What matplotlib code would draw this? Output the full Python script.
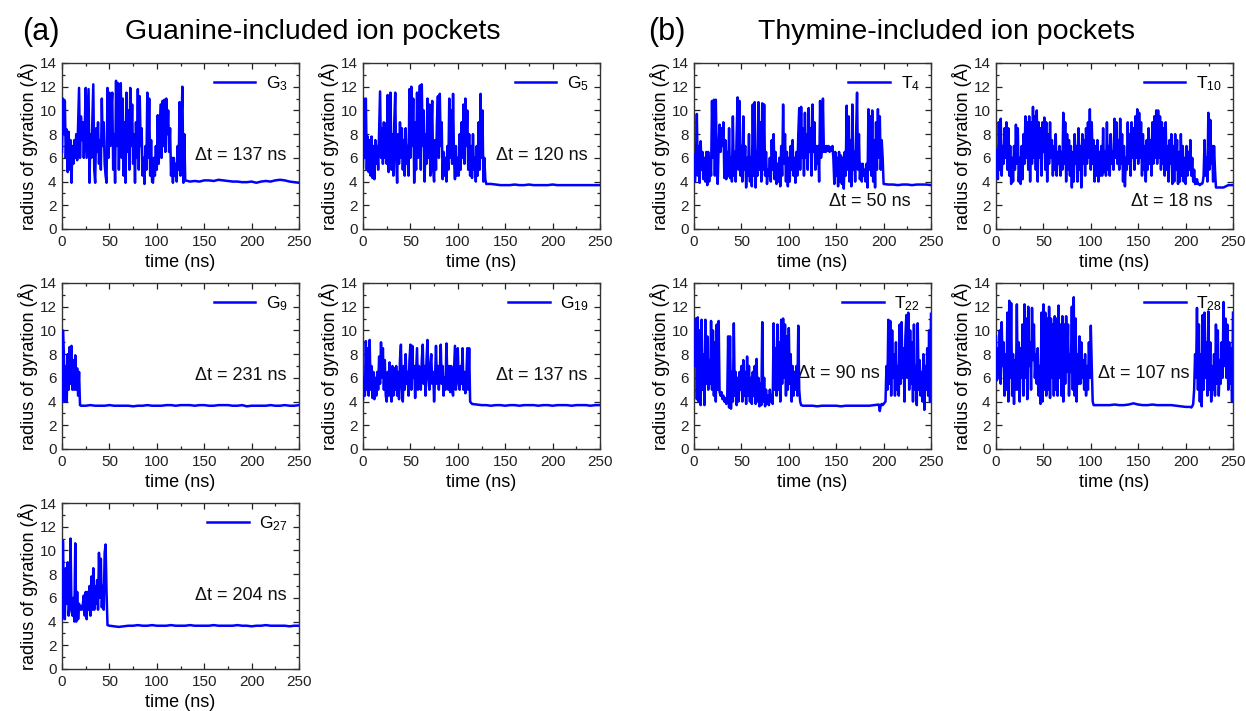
import numpy as np
import matplotlib
matplotlib.use('Agg')
import matplotlib.pyplot as plt
from matplotlib.ticker import MultipleLocator

plt.rcParams['font.family'] = ['Liberation Sans', 'DejaVu Sans']
plt.rcParams['mathtext.fontset'] = 'custom'
plt.rcParams['mathtext.rm'] = 'Liberation Sans'
plt.rcParams['mathtext.it'] = 'Liberation Sans:italic'

# ---------------- data (radius of gyration, Angstrom) ----------------
# noisy parts sampled every 1 ns, flat parts every 5 ns
G3_NOISY = [6.5, 11.0, 8.0, 10.8, 6.0, 8.4, 4.8, 8.2, 5.0, 7.5,
            3.9, 7.0, 5.5, 7.5, 6.0, 8.0, 5.8, 9.0, 11.9, 6.0,
            9.5, 7.5, 9.0, 6.0, 8.5, 11.9, 6.0, 9.0, 11.8, 3.9,
            8.0, 6.0, 9.0, 12.2, 5.0, 3.9, 8.5, 6.5, 9.0, 5.5,
            7.5, 5.0, 11.0, 7.0, 9.0, 5.5, 4.5, 3.9, 11.9, 6.0,
            11.5, 7.0, 10.0, 11.5, 5.0, 8.0, 3.9, 12.5, 7.0, 12.3,
            5.0, 10.5, 12.3, 6.0, 11.0, 4.5, 9.0, 3.9, 11.5, 6.5,
            10.0, 5.0, 11.9, 7.0, 10.5, 5.5, 8.0, 3.9, 9.0, 6.0,
            11.8, 5.0, 11.2, 7.0, 8.5, 4.5, 6.0, 3.8, 7.0, 5.0,
            11.5, 6.0, 11.0, 4.5, 7.5, 4.0, 3.9, 6.0, 4.5, 7.0,
            5.0, 9.6, 5.5, 8.0, 10.5, 6.0, 10.8, 7.0, 10.9, 6.5,
            11.0, 8.0, 10.0, 6.5, 8.5, 4.5, 6.0, 3.9, 6.0, 4.5,
            5.5, 4.0, 7.0, 5.0, 10.7, 4.5, 9.0, 12.0, 3.9, 8.0,
            4.1]
G3_FLAT = [4.0, 4.05, 4.0, 4.1, 4.1, 4.05, 4.15, 4.1, 4.05, 4.0,
           4.0, 3.95, 3.95, 4.0, 3.9, 4.0, 4.05, 4.0, 4.1, 4.15,
           4.1, 4.0, 3.95, 3.9]

G5_NOISY = [5.2, 11.0, 6.0, 11.0, 5.0, 7.8, 4.8, 7.5, 4.5, 7.8,
            4.3, 7.0, 4.2, 7.5, 5.5, 7.0, 5.0, 8.5, 11.6, 6.0,
            8.5, 5.5, 9.0, 6.0, 8.9, 5.5, 11.3, 4.8, 9.0, 11.5,
            5.0, 8.0, 4.5, 9.0, 11.5, 6.0, 3.9, 8.0, 5.5, 9.0,
            6.0, 8.5, 5.0, 7.5, 4.5, 8.5, 5.5, 7.0, 4.5, 11.8,
            6.0, 12.0, 7.0, 11.0, 3.9, 9.0, 5.0, 11.5, 6.0, 10.0,
            12.1, 5.0, 12.2, 7.0, 10.0, 4.0, 8.0, 5.5, 11.0, 6.0,
            10.5, 4.5, 8.0, 10.8, 5.0, 4.0, 7.5, 5.0, 9.0, 11.2,
            6.0, 11.4, 7.0, 9.0, 4.2, 6.5, 4.5, 6.0, 4.0, 7.0,
            5.0, 11.0, 6.0, 10.0, 5.5, 11.4, 6.0, 4.2, 7.0, 4.5,
            6.0, 4.5, 8.0, 5.0, 9.0, 6.0, 10.5, 5.5, 11.0, 7.0,
            10.0, 5.0, 8.0, 4.5, 7.0, 4.3, 8.0, 5.0, 6.0, 4.0,
            7.0, 4.5, 9.0, 5.0, 11.4, 6.0, 10.0, 4.0, 6.0, 4.2,
            3.8]
G5_FLAT = [3.8, 3.75, 3.7, 3.7, 3.7, 3.75, 3.7, 3.7, 3.75, 3.7,
           3.7, 3.7, 3.7, 3.75, 3.7, 3.7, 3.7, 3.7, 3.7, 3.7,
           3.7, 3.7, 3.7, 3.7]

G9_NOISY = [4.0, 10.0, 8.0, 4.0, 7.0, 4.0, 8.0, 5.0, 8.6, 5.5,
            8.7, 5.0, 7.5, 5.0, 7.9, 5.0, 6.8, 4.5, 6.5, 3.7]
G9_FLAT = [3.65, 3.65, 3.7, 3.65, 3.65, 3.65, 3.7, 3.65, 3.65, 3.65,
           3.65, 3.6, 3.65, 3.65, 3.7, 3.65, 3.65, 3.65, 3.7, 3.7,
           3.65, 3.7, 3.7, 3.7, 3.65, 3.7, 3.7, 3.65, 3.65, 3.7,
           3.7, 3.7, 3.65, 3.65, 3.7, 3.6, 3.65, 3.65, 3.65, 3.65,
           3.7, 3.65, 3.65, 3.7, 3.65, 3.65, 3.7]

G19_NOISY = [4.2, 6.0, 4.5, 9.1, 5.0, 8.5, 4.5, 9.2, 5.0, 7.0,
             4.3, 6.5, 4.2, 6.0, 4.5, 6.5, 5.0, 7.8, 5.5, 9.0,
             6.0, 8.5, 5.0, 7.5, 4.5, 4.0, 6.5, 4.5, 7.3, 5.0,
             4.0, 7.0, 4.5, 6.8, 5.0, 7.0, 4.5, 6.5, 4.2, 7.5,
             8.8, 5.0, 4.0, 7.0, 5.0, 8.0, 5.5, 6.5, 4.5, 7.5,
             8.8, 5.0, 8.7, 6.0, 7.0, 4.3, 6.5, 8.5, 5.0, 7.0,
             6.5, 5.0, 7.5, 8.8, 5.5, 7.0, 4.5, 7.5, 9.2, 6.0,
             5.0, 7.0, 8.0, 5.5, 6.5, 4.0, 6.0, 8.7, 5.5, 7.0,
             5.0, 6.5, 8.8, 5.5, 7.0, 4.5, 6.0, 5.0, 8.9, 6.0,
             5.0, 7.0, 4.8, 7.0, 5.0, 4.5, 6.5, 8.7, 5.0, 7.0,
             8.5, 5.5, 5.0, 7.0, 5.5, 8.5, 5.0, 6.5, 4.7, 6.0,
             8.5, 5.0, 8.5, 4.0, 3.9]
G19_FLAT = [3.8, 3.75, 3.7, 3.7, 3.65, 3.7, 3.7, 3.65, 3.7, 3.7,
            3.65, 3.7, 3.7, 3.7, 3.65, 3.7, 3.7, 3.65, 3.7, 3.7,
            3.7, 3.65, 3.7, 3.7, 3.7, 3.65, 3.7, 3.7]

G27_NOISY = [4.2, 10.8, 6.0, 4.2, 8.5, 5.5, 9.0, 4.5, 5.5, 11.0,
             5.0, 4.5, 6.0, 4.0, 10.6, 4.0, 6.5, 4.2, 5.5, 5.0,
             5.3, 5.0, 5.5, 6.2, 4.5, 6.5, 4.2, 6.5, 5.0, 7.0,
             4.5, 7.8, 5.0, 8.5, 5.0, 7.0, 5.5, 7.5, 5.0, 9.8,
             6.0, 9.3, 5.2, 7.0, 5.0, 9.8, 10.5, 6.4, 3.7]
G27_FLAT = [3.65, 3.6, 3.55, 3.6, 3.65, 3.65, 3.7, 3.65, 3.65, 3.7,
            3.65, 3.65, 3.65, 3.7, 3.65, 3.65, 3.65, 3.7, 3.65, 3.65,
            3.65, 3.65, 3.7, 3.65, 3.65, 3.65, 3.65, 3.7, 3.65, 3.65,
            3.6, 3.65, 3.65, 3.7, 3.65, 3.65, 3.65, 3.65, 3.6, 3.65,
            3.65]

T4_NOISY = [6.2, 4.0, 5.5, 9.7, 4.5, 7.0, 3.9, 7.4, 5.0, 6.5,
            4.2, 6.0, 4.0, 6.5, 3.7, 6.5, 4.0, 6.0, 4.5, 10.8,
            6.0, 10.9, 4.5, 10.9, 6.0, 3.8, 7.0, 8.8, 6.5, 8.5,
            7.0, 9.0, 4.3, 7.5, 4.2, 6.5, 4.5, 8.5, 4.3, 6.0,
            4.0, 9.5, 4.5, 6.5, 4.0, 8.0, 11.1, 5.0, 10.8, 4.5,
            7.0, 4.0, 9.5, 5.0, 7.0, 3.5, 6.0, 4.5, 8.0, 4.0,
            6.0, 3.6, 10.5, 4.5, 10.7, 3.5, 6.5, 4.5, 10.7, 5.0,
            9.0, 4.0, 10.6, 5.0, 10.5, 4.5, 6.5, 3.8, 5.0, 4.5,
            6.0, 4.0, 7.5, 5.0, 8.0, 4.2, 6.5, 3.8, 5.5, 4.0,
            6.0, 3.6, 7.0, 4.5, 10.5, 5.5, 8.0, 4.0, 6.5, 3.6,
            6.0, 4.0, 7.0, 5.0, 7.5, 4.5, 6.0, 3.9, 6.5, 4.5,
            8.0, 10.2, 5.0, 10.3, 6.0, 8.5, 4.5, 9.8, 6.0, 8.0,
            5.0, 10.2, 6.5, 8.5, 4.5, 10.5, 6.5, 9.0, 5.0, 7.0,
            5.5, 7.0, 4.0, 10.8, 6.0, 7.0, 11.0, 6.5, 7.0, 6.5,
            7.0, 6.6, 7.0, 6.5, 6.9, 6.6, 7.0, 6.0, 3.8, 6.5,
            4.5, 6.0, 3.6, 6.5, 4.0, 6.2, 3.8, 6.0, 3.4, 6.5,
            4.5, 10.4, 5.0, 9.5, 4.0, 7.5, 3.6, 10.5, 5.0, 6.5,
            4.0, 8.0, 11.5, 5.0, 8.0, 4.2, 5.5, 4.0, 5.5, 4.5,
            5.0, 4.0, 5.5, 3.5, 10.1, 5.0, 9.5, 4.5, 10.0, 4.0,
            7.5, 3.5, 9.0, 5.0, 10.1, 6.0, 9.5, 5.0, 7.5, 6.0,
            3.8]
T4_FLAT = [3.75, 3.75, 3.7, 3.75, 3.75, 3.7, 3.75, 3.75, 3.75, 3.7]

T10_NOISY = [4.5, 6.7, 4.2, 9.0, 5.0, 9.3, 4.5, 7.0, 5.5, 8.5,
             6.0, 9.0, 5.0, 8.5, 4.5, 7.0, 3.8, 6.0, 4.0, 7.0,
             5.0, 8.8, 5.5, 8.5, 4.0, 6.0, 3.8, 7.0, 4.2, 8.0,
             5.5, 9.5, 6.0, 9.0, 5.0, 9.5, 4.0, 9.0, 5.5, 10.3,
             6.0, 9.5, 5.0, 10.0, 4.0, 9.0, 6.0, 8.5, 4.5, 9.0,
             6.5, 9.4, 5.0, 9.0, 4.0, 8.0, 5.5, 9.0, 6.0, 7.5,
             4.5, 7.0, 5.0, 8.0, 4.5, 6.5, 5.5, 7.0, 4.5, 6.5,
             5.0, 9.8, 5.5, 9.0, 4.0, 8.0, 5.0, 7.5, 4.5, 7.0,
             3.5, 6.5, 4.0, 8.0, 5.5, 7.0, 4.0, 8.5, 5.0, 7.0,
             3.5, 8.0, 5.5, 7.5, 4.5, 8.5, 5.5, 9.0, 6.0, 10.1,
             5.0, 9.0, 5.5, 7.5, 4.0, 7.0, 4.5, 7.5, 4.0, 6.5,
             4.5, 7.0, 4.5, 8.5, 4.8, 6.5, 4.5, 9.0, 5.0, 7.0,
             4.5, 8.0, 5.5, 6.5, 5.0, 9.3, 6.0, 9.0, 5.5, 7.5,
             5.0, 9.3, 5.5, 8.0, 4.0, 7.0, 3.6, 6.0, 5.0, 9.0,
             5.5, 8.0, 4.5, 9.0, 6.0, 8.5, 5.0, 9.5, 6.0, 10.1,
             5.5, 9.8, 6.0, 9.0, 4.5, 8.0, 5.0, 7.0, 4.0, 7.5,
             5.0, 8.5, 5.5, 7.5, 4.5, 9.0, 5.5, 9.5, 6.0, 10.0,
             5.5, 10.0, 6.0, 9.5, 5.0, 9.0, 5.5, 8.5, 4.5, 9.0,
             5.0, 7.0, 4.0, 7.5, 5.5, 8.0, 3.8, 7.0, 4.0, 8.0,
             5.0, 7.5, 3.8, 6.5, 4.0, 8.0, 4.5, 7.0, 4.0, 6.0,
             3.8, 7.0, 4.5, 6.5, 5.0, 7.5, 4.5, 6.0, 4.0, 5.0,
             3.8, 3.8, 4.2, 3.8, 3.8, 3.7, 3.8, 3.8, 3.9, 4.5,
             7.5, 4.5, 6.0, 4.0, 9.8, 5.0, 9.2, 5.5, 7.0, 4.0,
             7.0, 5.0, 3.5]
T10_FLAT = [3.5, 3.5, 3.7, 3.7]

T22_NOISY_A = [9.0, 7.0, 11.0, 4.2, 11.1, 4.0, 10.0, 3.7, 10.9, 5.0,
               8.0, 3.7, 10.9, 5.5, 9.5, 5.0, 7.5, 5.5, 10.8, 5.0,
               10.0, 4.5, 9.0, 4.0, 10.5, 5.0, 10.8, 4.8, 4.5, 4.8,
               4.2, 4.5, 4.0, 4.3, 3.8, 4.0, 9.5, 3.5, 9.5, 3.4,
               6.5, 4.0, 10.6, 4.5, 6.5, 3.7, 6.0, 4.0, 6.5, 5.0,
               7.0, 4.0, 7.5, 4.5, 6.5, 3.8, 7.8, 4.5, 7.0, 4.0,
               6.0, 3.8, 6.5, 4.5, 7.0, 3.8, 7.6, 4.0, 6.0, 3.6,
               5.5, 3.7, 10.7, 4.0, 6.0, 3.6, 5.0, 3.8, 4.5, 3.7,
               5.0, 4.0, 4.5, 3.8, 10.6, 5.0, 8.5, 4.5, 10.5, 5.0,
               9.0, 4.0, 10.9, 5.5, 11.0, 6.0, 10.5, 4.5, 9.5, 5.0,
               10.2, 5.5, 8.0, 4.0, 7.0, 4.5, 6.5, 5.0, 7.0, 4.5,
               10.4, 5.0, 4.0, 3.7]
T22_FLAT = [3.65, 3.65, 3.65, 3.6, 3.65, 3.65, 3.65, 3.65, 3.6, 3.65,
            3.65, 3.65, 3.65, 3.65, 3.65, 3.7, 3.75]
T22_NOISY_B = [3.2, 3.7, 3.8, 3.7, 3.8, 3.9, 4.0, 7.0, 5.0, 10.9,
               5.5, 10.8, 4.5, 10.0, 6.0, 8.0, 4.5, 9.0, 5.0, 7.0,
               4.5, 10.5, 5.5, 10.7, 6.0, 8.5, 4.0, 9.5, 11.3, 6.0,
               11.5, 5.0, 10.0, 5.5, 9.0, 4.0, 10.5, 5.0, 7.0, 3.7,
               10.6, 5.0, 7.5, 4.5, 6.5, 4.0, 8.0, 3.3, 7.0, 5.0,
               8.5, 4.5, 10.0, 4.0, 11.4]

T28_NOISY_A = [9.5, 5.8, 8.5, 6.0, 10.0, 5.5, 10.7, 7.0, 9.0, 4.5,
               8.0, 5.0, 11.5, 4.0, 12.5, 6.0, 12.3, 4.5, 8.0, 3.8,
               7.5, 5.0, 12.2, 5.0, 9.0, 4.0, 8.5, 6.0, 10.5, 4.5,
               12.2, 6.0, 11.0, 4.2, 12.0, 7.0, 9.0, 5.0, 11.9, 7.5,
               10.5, 6.0, 8.0, 5.5, 8.5, 4.5, 7.0, 3.8, 11.5, 4.0,
               12.2, 5.0, 11.5, 4.5, 11.0, 5.0, 12.0, 4.3, 11.0, 6.0,
               10.5, 4.5, 11.2, 5.0, 11.0, 4.5, 12.1, 6.0, 10.5, 4.5,
               11.2, 4.0, 10.5, 5.5, 11.2, 6.5, 10.5, 4.5, 8.0, 6.5,
               12.0, 5.0, 12.8, 4.5, 11.0, 4.0, 8.0, 5.5, 9.5, 5.5,
               9.0, 6.0, 7.5, 5.0, 8.0, 4.5, 7.0, 5.0, 9.0, 6.0,
               10.4, 7.0, 4.0, 3.7]
T28_FLAT = [3.7, 3.7, 3.7, 3.7, 3.75, 3.7, 3.7, 3.75, 3.85, 3.75,
            3.7, 3.7, 3.75, 3.7, 3.7, 3.7, 3.7, 3.65, 3.6, 3.55,
            3.55]
T28_NOISY_B = [3.5, 3.6, 3.8, 5.0, 8.0, 6.0, 11.9, 5.0, 10.5, 4.0,
               8.0, 3.6, 11.3, 5.0, 11.5, 6.0, 9.0, 4.5, 11.6, 5.0,
               9.0, 4.0, 7.0, 5.0, 8.0, 4.5, 10.5, 5.5, 10.0, 4.5,
               7.5, 5.5, 9.0, 6.0, 12.4, 7.0, 11.0, 6.0, 10.5, 5.0,
               9.0, 5.5, 8.5, 4.0, 11.5]

LABELS = ['G$_{3}$', 'G$_{5}$', 'G$_{9}$', 'G$_{19}$', 'G$_{27}$',
          'T$_{4}$', 'T$_{10}$', 'T$_{22}$', 'T$_{28}$']
DT_TEXT = ['\u0394t = 137 ns', '\u0394t = 120 ns', '\u0394t = 231 ns',
           '\u0394t = 137 ns', '\u0394t = 204 ns', '\u0394t = 50 ns',
           '\u0394t = 18 ns', '\u0394t = 90 ns', '\u0394t = 107 ns']

# segments: (start time in ns, sampling step in ns, values)
SERIES = [
    [(0, 1, G3_NOISY), (135, 5, G3_FLAT)],
    [(0, 1, G5_NOISY), (135, 5, G5_FLAT)],
    [(0, 1, G9_NOISY), (20, 5, G9_FLAT)],
    [(0, 1, G19_NOISY), (115, 5, G19_FLAT)],
    [(0, 1, G27_NOISY), (50, 5, G27_FLAT)],
    [(0, 1, T4_NOISY), (205, 5, T4_FLAT)],
    [(0, 1, T10_NOISY), (235, 5, T10_FLAT)],
    [(0, 1, T22_NOISY_A), (115, 5, T22_FLAT), (196, 1, T22_NOISY_B)],
    [(0, 1, T28_NOISY_A), (105, 5, T28_FLAT), (206, 1, T28_NOISY_B)],
]

# ---------------- layout ----------------
W, H = 1246, 711
fig = plt.figure(figsize=(W / 100, H / 100), dpi=100)

col_left = [62, 363, 694, 996]
row_top = [63, 283, 503]
aw, ah = 237, 166
grid = [(0, 0), (0, 1), (1, 0), (1, 1), (2, 0), (0, 2), (0, 3), (1, 2), (1, 3)]

# Δt text placement: (x, y, ha)
dt_pos = [(237, 6.2, 'right')] * 5 + [(228, 2.35, 'right'), (228, 2.35, 'right'),
                                       (110, 6.4, 'left'), (108, 6.4, 'left')]

for i, (r, c) in enumerate(grid):
    ax = fig.add_axes([col_left[c] / W, 1 - (row_top[r] + ah) / H, aw / W, ah / H])
    tt, yy = [], []
    for t0, step, vals in SERIES[i]:
        tt.append(t0 + step * np.arange(len(vals)))
        yy.append(np.asarray(vals, dtype=float))
    t = np.concatenate(tt)
    y = np.concatenate(yy)
    ax.plot(t, y, color='#0000ff', lw=1.8, label=LABELS[i], zorder=3)
    ax.set_xlim(0, 250)
    ax.set_ylim(0, 14)
    ax.xaxis.set_major_locator(MultipleLocator(50))
    ax.xaxis.set_minor_locator(MultipleLocator(25))
    ax.yaxis.set_major_locator(MultipleLocator(2))
    ax.yaxis.set_minor_locator(MultipleLocator(1))
    ax.tick_params(which='both', direction='in', top=True, right=True,
                   labelsize=11, colors='#222222', width=0.9)
    ax.tick_params(which='major', length=4, pad=4)
    ax.tick_params(which='minor', length=2.5)
    for s in ax.spines.values():
        s.set_color('#333333')
        s.set_linewidth(1.0)
    ax.set_xlabel('time (ns)', fontsize=13, labelpad=4)
    ax.set_ylabel('radius of gyration (\u00c5)', fontsize=13, labelpad=1)
    leg = ax.legend(loc='upper right', frameon=False, fontsize=12.5,
                    handlelength=2.4, borderaxespad=0.25, handletextpad=0.6)
    leg.set_zorder(1)
    x, yv, ha = dt_pos[i]
    ax.text(x, yv, DT_TEXT[i], fontsize=13, ha=ha, va='center', color='#111111', zorder=2)

title_font = ['Liberation Sans', 'DejaVu Sans']
fig.text(22 / W, 1 - 32 / H, '(a)', fontsize=22, family=title_font, va='center', ha='left')
fig.text(313 / W, 1 - 32 / H, 'Guanine-included ion pockets', fontsize=20.5, family=title_font,
         va='center', ha='center')
fig.text(648 / W, 1 - 32 / H, '(b)', fontsize=22, family=title_font, va='center', ha='left')
fig.text(947 / W, 1 - 32 / H, 'Thymine-included ion pockets', fontsize=20.5, family=title_font,
         va='center', ha='center')

fig.savefig('out.png', dpi=100)
